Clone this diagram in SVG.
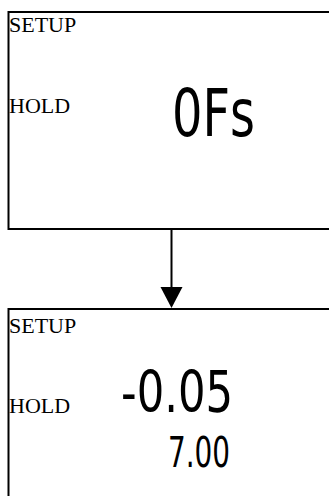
<svg xmlns="http://www.w3.org/2000/svg" width="329" height="496" viewBox="0 0 329 496">
<style>
.box{fill:#fff;stroke:#000;stroke-width:2}
.lbl{font-family:"Liberation Serif","Times New Roman",serif;font-size:22px;fill:#000}
.lcd{font-family:"Liberation Sans Narrow","DejaVu Sans Condensed","Liberation Sans",sans-serif;fill:#000}
.conn{stroke:#000;stroke-width:2;fill:none}
</style>
<rect width="329" height="496" fill="#fff"/>
<g id="node1">
<rect class="box" x="8.5" y="12" width="400" height="217"/>
<text class="lbl" x="9" y="32">SETUP</text>
<text class="lbl" x="9" y="113">HOLD</text>
<text class="lcd" x="172" y="136" font-size="65" textLength="83" lengthAdjust="spacingAndGlyphs">0Fs</text>
</g>
<g id="node2">
<rect class="box" x="8.5" y="309" width="400" height="300"/>
<text class="lbl" x="9" y="333">SETUP</text>
<text class="lbl" x="9" y="413">HOLD</text>
<text class="lcd" x="121" y="412" font-size="57" textLength="112" lengthAdjust="spacingAndGlyphs">-0.05</text>
<text class="lcd" x="168" y="467" font-size="42" textLength="62" lengthAdjust="spacingAndGlyphs">7.00</text>
</g>
<g id="connectors">
<line class="conn" x1="171.5" y1="229" x2="171.5" y2="290"/>
<path d="M160.5,287 L182.5,287 L171.5,308 Z" fill="#000"/>
</g>
</svg>
